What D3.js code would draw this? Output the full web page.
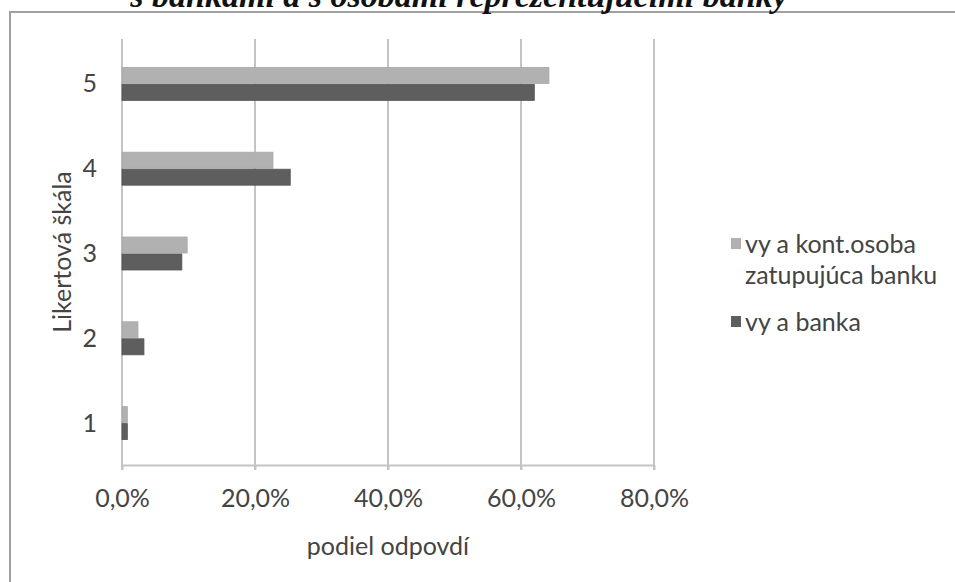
<!DOCTYPE html>
<html>
<head>
<meta charset="utf-8">
<script src="https://cdn.jsdelivr.net/npm/d3@7"></script>
<style>
  body { margin: 0; background: #fff; }
  svg { display: block; }
</style>
</head>
<body>
<div id="chart"></div>
<script>
// Likert categories, shares of answers for both series
const categories = ["5", "4", "3", "2", "1"];
const seriesNames = ["vy a kont.osoba zatupujúca banku", "vy a banka"];
const kontOsoba = [0.642, 0.227, 0.098, 0.024, 0.008];
const banka = [0.620, 0.253, 0.090, 0.033, 0.008];
const xTicks = [0, 0.2, 0.4, 0.6, 0.8];
const titleText = "s bankami a s osobami reprezentujúcimi banky";

const W = 955, H = 582;
const colors = ["#b1b1b1", "#5e5e5e"];
const font = "Lato, 'Open Sans', sans-serif";
const fontSize = 25;
const textColor = "#444";

const svg = d3.select("#chart").append("svg")
    .attr("width", W)
    .attr("height", H);

// chart frame
svg.append("rect")
    .attr("x", 10)
    .attr("y", 12)
    .attr("width", W)
    .attr("height", H)
    .attr("fill", "#fff")
    .attr("stroke", "#a0a0a0")
    .attr("stroke-width", 2);

// title (cut off at the top in the source), drawn over the frame
svg.append("text")
    .attr("x", 459)
    .attr("y", 7)
    .attr("text-anchor", "middle")
    .attr("font-family", "'Liberation Serif', serif")
    .attr("font-weight", "bold")
    .attr("font-style", "italic")
    .attr("font-size", 34)
    .attr("fill", "#111")
    .text(titleText);

const x = d3.scaleLinear()
    .domain([0, 0.8])
    .range([122, 654]);

const y = d3.scaleBand()
    .domain(categories)
    .range([41, 465]);

const g = svg.append("g");

// gridlines
g.selectAll(".grid")
    .data(xTicks)
    .enter().append("line")
    .attr("x1", d => x(d))
    .attr("x2", d => x(d))
    .attr("y1", 39)
    .attr("y2", 470)
    .attr("stroke", "#c4c4c4")
    .attr("stroke-width", 2);

// bars
const barH = 16;
const rows = categories.map((c, i) => ({c, vals: [kontOsoba[i], banka[i]]}));
rows.forEach(r => {
    r.vals.forEach((v, j) => {
        const cy = y(r.c) + y.bandwidth() / 2;
        g.append("rect")
            .attr("x", x(0))
            .attr("y", cy - barH + j * barH + (j === 0 ? 0 : 1))
            .attr("width", x(v) - x(0))
            .attr("height", barH)
            .attr("fill", colors[j])
            .attr("stroke", j === 0 ? "#a8a8a8" : "#555")
            .attr("stroke-width", 0.8);
    });
});

// x axis
const xAxis = d3.axisBottom(x)
    .tickValues(xTicks)
    .tickSize(5)
    .tickSizeOuter(0)
    .tickFormat(d => d3.format(".1f")(d * 100).replace(".", ",") + "%");
const xa = svg.append("g")
    .attr("transform", "translate(0,465)")
    .call(xAxis);
xa.select(".domain").attr("stroke", "#c4c4c4").attr("stroke-width", 2);
xa.selectAll(".tick line").attr("stroke", "#c4c4c4").attr("stroke-width", 2);
xa.selectAll(".tick text")
    .attr("dy", 0)
    .attr("y", 42)
    .attr("font-family", font)
    .attr("font-size", fontSize)
    .attr("fill", textColor);

// y axis labels
const ya = svg.append("g")
    .attr("transform", "translate(122,0)")
    .call(d3.axisLeft(y).tickSize(0).tickPadding(25));
ya.select(".domain").remove();
ya.selectAll(".tick text")
    .attr("dy", "0.36em")
    .attr("font-family", font)
    .attr("font-size", fontSize)
    .attr("fill", textColor);

// axis titles
svg.append("text")
    .attr("x", 388)
    .attr("y", 555)
    .attr("text-anchor", "middle")
    .attr("font-family", font)
    .attr("font-size", fontSize)
    .attr("fill", textColor)
    .text("podiel odpovdí");

svg.append("text")
    .attr("transform", "translate(71,252) rotate(-90)")
    .attr("text-anchor", "middle")
    .attr("font-family", font)
    .attr("font-size", fontSize)
    .attr("fill", textColor)
    .text("Likertová škála");

// legend
const legend = svg.append("g");
const legendItems = [
    {lines: ["vy a kont.osoba", "zatupujúca banku"], y: 244, color: colors[0]},
    {lines: ["vy a banka"], y: 322, color: colors[1]}
];
legendItems.forEach(d => {
    legend.append("rect")
        .attr("x", 731)
        .attr("y", d.y - 6)
        .attr("width", 10)
        .attr("height", 11)
        .attr("fill", d.color);
    const t = legend.append("text")
        .attr("x", 745)
        .attr("y", d.y + 9)
        .attr("font-family", font)
        .attr("font-size", fontSize)
        .attr("fill", textColor);
    d.lines.forEach((l, i) => {
        t.append("tspan")
            .attr("x", 745)
            .attr("dy", i === 0 ? 0 : 31)
            .text(l);
    });
});
</script>
</body>
</html>
